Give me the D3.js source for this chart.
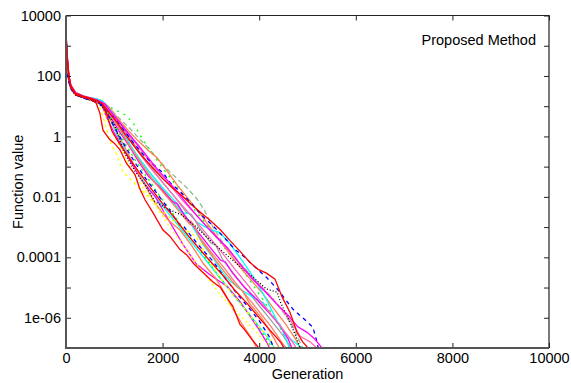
<!DOCTYPE html>
<html><head><meta charset="utf-8">
<script src="https://cdn.jsdelivr.net/npm/d3@7"></script>
<style>
html,body{margin:0;padding:0;background:#fff;}
text{font-family:"Liberation Sans",Arial,Helvetica,sans-serif;}
</style></head>
<body><svg id="c" width="571" height="383"></svg>
<script>
// ---- data: [generation, function value] ----
const xTicks = [0, 2000, 4000, 6000, 8000, 10000];
const yTicks = [1e4, 1e3, 1e2, 1e1, 1, 1e-1, 1e-2, 1e-3, 1e-4, 1e-5, 1e-6, 1e-7];
const yLabels = ["10000", "", "100", "", "1", "", "0.01", "", "0.0001", "", "1e-06", ""];

const runRedLeft = [[0,2500],[30,350],[60,90],[100,42],[200,24],[350,20],[500,17],[620,13],[700,6],[766,1.6],[900,0.8],[1000,0.6],[1118,0.36],[1250,0.13],[1429,0.055],[1520,0.02],[1636,0.008],[1800,0.003],[2008,8e-4],[2150,5e-4],[2360,1.8e-4],[2500,1.2e-4],[2650,6e-5],[2878,2.7e-5],[3050,1.5e-5],[3200,1e-5],[3354,4e-6],[3450,2.5e-6],[3602,6e-7],[3700,4e-7],[3851,1.9e-7],[3996,1e-7],[4020,8e-8]];
const runRedBulge = [[0,1800],[30,280],[60,85],[100,45],[200,26],[350,21],[500,18],[650,15],[750,12],[900,6],[1050,3],[1200,1.3],[1400,0.5],[1600,0.2],[1800,0.09],[2000,0.04],[2200,0.02],[2400,0.011],[2600,5.5e-3],[2836,2.6e-3],[3000,1.6e-3],[3200,8e-4],[3400,3.5e-4],[3600,1.6e-4],[3800,7e-5],[3975,4e-5],[4150,3e-5],[4327,1.9e-5],[4472,5e-6],[4638,1.5e-6],[4783,3.3e-7],[4900,1.6e-7],[4990,1.1e-7],[5020,8e-8]];
const runBlueRight = [[0,200],[20,150],[50,80],[100,40],[200,24],[350,19],[500,16],[650,13],[800,9],[1000,4],[1200,1.6],[1400,0.6],[1600,0.25],[1800,0.12],[2008,0.063],[2150,0.03],[2400,0.013],[2600,6e-3],[2800,2.5e-3],[3000,1.3e-3],[3250,5e-4],[3500,1.8e-4],[3700,1e-4],[3900,5e-5],[4160,2.1e-5],[4400,8e-6],[4700,1.9e-6],[4900,1e-6],[5110,4.9e-7],[5180,2e-7],[5230,9e-8]];
const runSeaGreen = [[0,1600],[30,300],[60,100],[100,50],[200,28],[350,22],[500,19],[650,16],[800,12],[950,7],[1100,4],[1300,2],[1500,0.9],[1740,0.36],[1900,0.18],[2100,0.08],[2300,0.04],[2500,0.02],[2700,9e-3],[2850,4e-3],[3043,1e-3],[3250,3e-4],[3500,1e-4],[3750,3.5e-5],[4000,1.3e-5],[4250,5e-6],[4500,1.5e-6],[4700,5e-7],[4900,1e-7],[4950,8e-8]];
const runGreenHigh = [[0,1200],[30,250],[60,80],[100,40],[200,24],[350,20],[500,17],[650,15],[800,12],[1015,7.6],[1220,5.2],[1390,2.8],[1590,0.78],[1800,0.25],[2000,0.09],[2200,0.035],[2400,0.013],[2600,5e-3],[2800,2e-3],[3000,8e-4],[3200,3e-4],[3400,1.2e-4],[3600,5e-5],[3800,1.8e-5],[4000,6e-6],[4200,2e-6],[4400,6e-7],[4550,2e-7],[4650,8e-8]];
const runYellow = [[0,1500],[30,260],[60,80],[100,40],[200,23],[350,19],[500,16],[620,13],[700,9],[800,3],[910,0.68],[1050,0.25],[1180,0.068],[1400,0.03],[1650,0.012],[1900,5e-3],[2150,2e-3],[2400,1e-3],[2710,4.5e-4],[2950,8e-5],[3190,2.1e-5],[3450,6e-6],[3700,2e-6],[3950,6e-7],[4220,2e-7],[4300,8e-8]];
const runBlack = [[0,1000],[30,200],[60,70],[100,38],[200,23],[350,19],[500,16],[650,13],[800,8],[1000,2.5],[1200,0.3],[1430,0.07],[1640,0.025],[1840,7e-3],[2100,4e-3],[2400,2.5e-3],[2700,1e-3],[3000,3.5e-4],[3300,1.3e-4],[3600,5e-5],[3900,2e-5],[4150,9e-6],[4370,7e-6],[4450,3e-6],[4640,7e-7],[4780,2e-7],[4870,8e-8]];
const runCyanA = [[0,2200],[30,350],[60,100],[100,48],[200,27],[350,22],[500,19],[650,17],[750,15],[850,10],[1000,5],[1200,1.5],[1400,0.3],[1600,0.1],[1850,0.03],[2100,0.01],[2400,3e-3],[2550,2.8e-3],[2700,1.5e-3],[3000,8e-4],[3150,7e-4],[3333,3.8e-4],[3600,1e-4],[3900,2e-5],[4150,4e-6],[4430,5e-7],[4650,2e-7],[4850,1.1e-7],[4950,8e-8]];
const runCyanB = [[0,1300],[30,230],[60,75],[100,40],[200,25],[350,21],[500,18],[650,16],[750,14],[900,7],[1100,2],[1300,0.6],[1500,0.2],[1750,0.06],[2000,0.02],[2300,6e-3],[2630,1e-3],[2850,2.5e-4],[3040,1e-4],[3250,3e-5],[3400,1.6e-5],[3650,8e-6],[3850,5e-6],[4080,3.2e-6],[4250,1.2e-6],[4430,6e-7],[4560,2e-7],[4640,8e-8]];
const runCyanC = [[0,900],[30,200],[60,70],[100,38],[200,24],[350,20],[500,17],[650,15],[750,13],[900,4],[1050,1.2],[1250,0.3],[1450,0.08],[1650,0.025],[1900,8e-3],[2150,2.5e-3],[2400,8e-4],[2650,2.5e-4],[2900,8e-5],[3150,2.5e-5],[3400,8e-6],[3650,2.5e-6],[3900,8e-7],[4150,2.5e-7],[4350,8e-8]];
const runMagentaA = [[0,2800],[30,400],[60,110],[100,50],[200,28],[350,22],[500,19],[650,16],[800,12],[950,6],[1100,3],[1300,1.2],[1500,0.5],[1700,0.2],[1900,0.08],[2100,0.035],[2300,0.015],[2500,6e-3],[2700,2.5e-3],[2900,1.1e-3],[3100,5e-4],[3350,2e-4],[3600,6e-5],[3850,2e-5],[4100,8e-6],[4350,3e-6],[4600,1.2e-6],[4800,5e-7],[4990,3.3e-7],[5150,2e-7],[5280,1.1e-7],[5330,8e-8]];
const runMagentaB = [[0,1100],[30,220],[60,75],[100,40],[200,24],[350,20],[500,17],[650,14],[750,11],[900,5],[1100,1.5],[1300,0.5],[1500,0.15],[1700,0.05],[1950,0.02],[2200,7e-3],[2300,6e-3],[2450,2.5e-3],[2700,8e-4],[2950,2.5e-4],[3200,8e-5],[3300,7e-5],[3450,3e-5],[3700,1e-5],[3950,4e-6],[4200,1.5e-6],[4450,5e-7],[4600,2e-7],[4700,8e-8]];
const runMagentaC = [[0,1700],[30,300],[60,90],[100,45],[200,25],[350,20],[500,17],[650,14],[750,10],[850,4],[1000,1.3],[1200,0.35],[1400,0.1],[1600,0.03],[1850,0.01],[2100,2e-3],[2420,2.7e-4],[2700,6e-5],[3000,2.5e-5],[3333,1.1e-5],[3600,3.5e-6],[3800,1.2e-6],[4000,4e-7],[4150,1.6e-7],[4250,8e-8]];
const runCoralA = [[0,1900],[30,320],[60,95],[100,46],[200,26],[350,21],[500,18],[650,15],[750,12],[850,6],[1000,2],[1200,0.5],[1400,0.12],[1600,0.03],[1850,6e-3],[2100,1.8e-3],[2360,8e-4],[2600,2.5e-4],[2850,6e-5],[3100,2e-5],[3300,6e-6],[3460,1.9e-6],[3650,6e-7],[3850,2e-7],[3980,8e-8]];
const runCoralB = [[0,1400],[30,260],[60,85],[100,42],[200,25],[350,20],[500,17],[650,15],[750,13],[850,8],[1000,3.5],[1200,1],[1400,0.3],[1600,0.1],[1800,0.035],[2050,0.012],[2300,4e-3],[2550,1.3e-3],[2650,1.1e-3],[2800,3.5e-4],[3050,1e-4],[3300,3e-5],[3550,1e-5],[3650,8e-6],[3800,3e-6],[4050,1e-6],[4250,3e-7],[4450,8e-8]];
const runCoralC = [[0,2400],[30,380],[60,105],[100,50],[200,28],[350,22],[500,19],[650,17],[750,15],[900,9],[1100,3.5],[1300,1.5],[1500,0.7],[1700,0.35],[1880,0.2],[2100,0.07],[2300,0.025],[2550,8e-3],[2800,2.5e-3],[3050,7e-4],[3300,2e-4],[3550,6e-5],[3800,2e-5],[4050,7e-6],[4300,2e-6],[4550,6e-7],[4750,2e-7],[4880,8e-8]];
const runPinkA = [[0,1600],[30,290],[60,90],[100,44],[200,26],[350,21],[500,18],[650,15],[750,13],[900,7],[1100,3],[1300,1.2],[1500,0.45],[1700,0.17],[1900,0.07],[2150,0.025],[2400,8e-3],[2650,3e-3],[2900,1.1e-3],[3150,4e-4],[3400,1.5e-4],[3650,5e-5],[3900,1.8e-5],[4150,7e-6],[4400,2.5e-6],[4650,8e-7],[4845,2.5e-7],[5050,1.6e-7],[5200,1e-7],[5260,8e-8]];
const runSalmon = [[0,700],[30,180],[60,65],[100,36],[200,23],[350,19],[500,16],[650,14],[750,12],[900,6],[1100,2],[1300,0.6],[1500,0.2],[1750,0.06],[2000,0.018],[2250,6e-3],[2500,1.8e-3],[2600,1.5e-3],[2750,5e-4],[3000,1.5e-4],[3250,5e-5],[3500,1.5e-5],[3750,5e-6],[4000,1.6e-6],[4250,5e-7],[4450,1.7e-7],[4600,8e-8]];
const runBlueLeft = [[0,120],[20,110],[50,70],[100,38],[200,24],[350,19],[500,16],[650,14],[750,11],[900,4],[1050,1.5],[1250,0.4],[1450,0.12],[1650,0.04],[1900,0.012],[2150,3.5e-3],[2350,1.2e-3],[2450,1e-3],[2567,5.6e-4],[2800,2e-4],[3043,7.4e-5],[3300,2e-5],[3550,6e-6],[3800,2e-6],[4000,8e-7],[4200,2.5e-7],[4330,8e-8]];
const runGray = [[0,1300],[30,240],[60,80],[100,42],[200,25],[350,20],[500,17],[650,15],[750,13],[900,8],[1100,3],[1300,1],[1500,0.35],[1750,0.1],[2000,0.03],[2250,0.01],[2500,3e-3],[2600,2.6e-3],[2750,1e-3],[3000,3e-4],[3100,2.5e-4],[3250,8e-5],[3500,2.5e-5],[3750,8e-6],[4000,2.5e-6],[4250,8e-7],[4500,2.5e-7],[4700,8e-8]];
const runGreenLow = [[0,1800],[30,300],[60,90],[100,44],[200,25],[350,20],[500,17],[650,14],[750,11],[900,5],[1050,1.8],[1250,0.5],[1450,0.15],[1700,0.04],[1950,0.01],[2200,3e-3],[2450,8e-4],[2700,2.5e-4],[2950,7e-5],[3200,2e-5],[3450,6e-6],[3700,2e-6],[3950,6e-7],[4150,2e-7],[4300,8e-8]];
const runYellowB = [[0,1000],[30,210],[60,75],[100,40],[200,24],[350,19],[500,16],[650,13],[750,10],[850,3.5],[1000,1],[1200,0.25],[1400,0.06],[1650,0.015],[1900,4e-3],[2150,1e-3],[2400,3e-4],[2650,8e-5],[2900,2.5e-5],[3150,7e-6],[3400,2.5e-6],[3650,1e-6],[3900,4e-7],[4100,1.7e-7],[4280,8e-8]];
const runRedMid = [[0,2100],[30,330],[60,95],[100,46],[200,26],[350,21],[500,18],[650,15],[750,12],[850,5],[950,1.5],[1100,0.6],[1300,0.2],[1500,0.07],[1750,0.02],[2000,6e-3],[2250,2e-3],[2500,6e-4],[2750,2e-4],[3000,7e-5],[3250,2.5e-5],[3500,8e-6],[3750,3e-6],[4000,1e-6],[4250,3.5e-7],[4450,1.5e-7],[4550,8e-8]];
const runHotPink = [[0,1500],[30,270],[60,85],[100,43],[200,25],[350,20],[500,17],[650,15],[750,13],[900,7],[1100,2.5],[1300,0.9],[1500,0.3],[1750,0.09],[2000,0.03],[2250,0.01],[2500,3.5e-3],[2750,1.2e-3],[3000,4e-4],[3250,1.3e-4],[3500,4e-5],[3750,1.3e-5],[4000,4e-6],[4250,1.3e-6],[4500,4e-7],[4700,1.5e-7],[4800,8e-8]];

const runs = [runSeaGreen, runGreenHigh, runGray, runCoralC, runSalmon, runCyanA, runCyanB, runCyanC,
  runMagentaB, runMagentaC, runCoralA, runCoralB, runPinkA, runHotPink, runGreenLow, runYellow, runYellowB,
  runBlack, runBlueLeft, runBlueRight, runMagentaA, runRedMid, runRedBulge, runRedLeft];

// ---- styles (separate from data) ----
const styles = [
  {c:"#8fbc8f", d:"5,3"}, {c:"#00ff00", d:"2,5"}, {c:"#a0a0a0", d:null}, {c:"#ff7f50", d:null},
  {c:"#fa8072", d:null}, {c:"#00ffff", d:null}, {c:"#00ffff", d:null}, {c:"#00ffff", d:null},
  {c:"#ff00ff", d:null}, {c:"#ff00ff", d:null}, {c:"#ff7f50", d:null}, {c:"#ff7f50", d:null},
  {c:"#ff6eb4", d:null}, {c:"#ff69b4", d:null}, {c:"#00ff00", d:"2,4"}, {c:"#ffff00", d:"3,3"}, {c:"#ffff00", d:"2,3"},
  {c:"#000000", d:"1,2"}, {c:"#0000ff", d:"4,4"}, {c:"#0000ff", d:"4,4"}, {c:"#ff00ff", d:null},
  {c:"#ff0000", d:null}, {c:"#ff0000", d:null}, {c:"#ff0000", d:null}
];

const svg = d3.select("#c");
const L = 66, R = 549, T = 15.5, B = 348;
const x = d3.scaleLinear().domain([0, 10000]).range([L, R]);
const y = d3.scaleLog().domain([1e-7, 1e4]).range([B, T]);

svg.append("clipPath").attr("id","clip").append("rect")
  .attr("x", L).attr("y", T).attr("width", R - L).attr("height", B - T);

const line = d3.line().x(d => x(d[0])).y(d => y(d[1]));
const g = svg.append("g").attr("clip-path", "url(#clip)");
runs.forEach((r, i) => {
  g.append("path").attr("d", line(r)).attr("fill", "none")
    .attr("stroke", styles[i].c).attr("stroke-width", 1.3)
    .attr("stroke-dasharray", styles[i].d);
});

const fs = "14.5px";
const ax = (sel) => { sel.select(".domain").remove(); sel.selectAll("line").attr("stroke", "#222"); sel.selectAll("text").attr("font-size", fs).attr("fill", "#000").style("font-family", '"Liberation Sans",Arial,sans-serif'); };

svg.append("g").attr("transform", `translate(0,${B})`)
  .call(d3.axisBottom(x).tickValues(xTicks).tickFormat(d3.format("d")).tickSize(-5).tickPadding(5)).call(ax);
svg.append("g").attr("transform", `translate(0,${T})`)
  .call(d3.axisTop(x).tickValues(xTicks).tickFormat("").tickSize(-5)).call(ax);
svg.append("g").attr("transform", `translate(${L},0)`)
  .call(d3.axisLeft(y).tickValues(yTicks).tickFormat((d, i) => yLabels[i]).tickSize(-5).tickPadding(5)).call(ax);
svg.append("g").attr("transform", `translate(${R},0)`)
  .call(d3.axisRight(y).tickValues(yTicks).tickFormat("").tickSize(-5)).call(ax);

// frame
svg.append("path").attr("d", `M${L},${T}H${R}V${B}`).attr("fill","none").attr("stroke","#222").attr("stroke-width",1.2);
svg.append("path").attr("d", `M${L},${T}V${B}H${R}`).attr("fill","none").attr("stroke","#555").attr("stroke-width",2);

svg.append("text").attr("x", (L + R) / 2).attr("y", 379).attr("text-anchor", "middle")
  .attr("font-size", fs).text("Generation");
svg.append("text").attr("transform", `translate(23,${(T + B) / 2}) rotate(-90)`).attr("text-anchor", "middle")
  .attr("font-size", fs).text("Function value");
svg.append("text").attr("x", 536).attr("y", 45).attr("text-anchor", "end")
  .attr("font-size", fs).text("Proposed Method");
</script></body></html>
